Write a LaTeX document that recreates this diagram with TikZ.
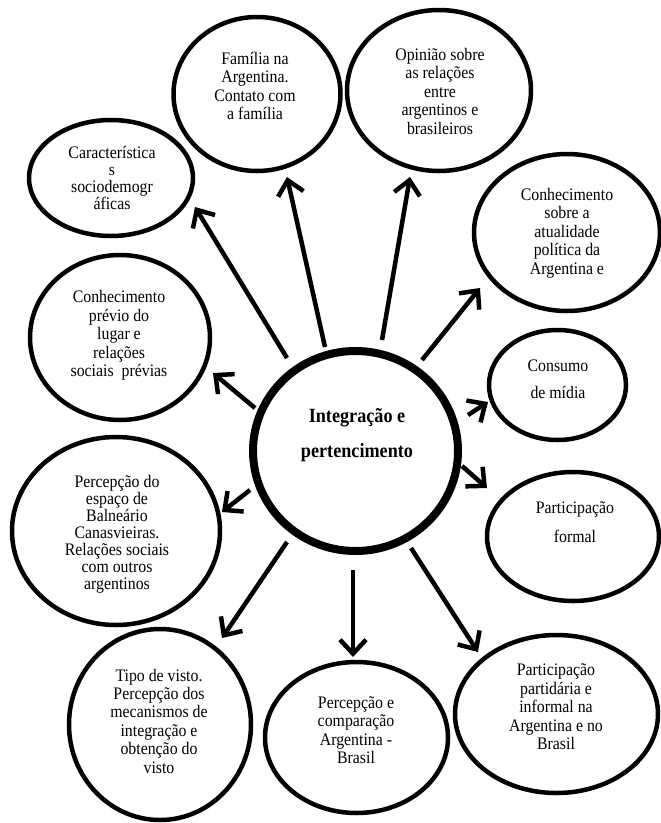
\documentclass[tikz,border=0pt]{standalone}
\usepackage{fontspec}
\setmainfont{Liberation Serif}[FakeStretch=0.9]
\usetikzlibrary{arrows.meta,shapes.geometric}
\begin{document}
\begin{tikzpicture}[x=1pt,y=-1pt,
  topic/.style={draw, ellipse, line width=4.5pt, inner sep=0pt},
  hub/.style={draw, ellipse, line width=8pt, inner sep=0pt},
  txt/.style={align=center, inner sep=0pt, font=\fontsize{17.6}{18.5}\selectfont},
  arr/.style={line width=4.5pt, -{Straight Barb[length=14pt,width=26pt,line width=4.5pt]}}
]
\useasboundingbox (0,0) rectangle (661,823);

% central theme
\node[hub, minimum width=205pt, minimum height=200pt] (c) at (355.5,451) {};
\node[txt, font=\bfseries\fontsize{20.2}{35}\selectfont] (c-t) at (357,435) {Integração e\\pertencimento};

% surrounding topics
\node[topic, minimum width=167pt, minimum height=154pt] (fam) at (257,94) {};
\node[txt] (fam-t) at (255,86) {Família na\\Argentina.\\Contato com\\a família};

\node[topic, minimum width=184pt, minimum height=161pt] (opi) at (439,90.5) {};
\node[txt] (opi-t) at (440,91) {Opinião sobre\\as relações\\entre\\argentinos e\\brasileiros};

\node[topic, minimum width=164pt, minimum height=116pt] (car) at (111,178) {};
\node[txt, font=\fontsize{17.6}{17}\selectfont] (car-t) at (112,178) {Característica\\s\\sociodemogr\\áficas};

\node[topic, minimum width=186pt, minimum height=157pt] (cso) at (567,232.5) {};
\node[txt] (cso-t) at (567,233) {Conhecimento\\sobre a\\atualidade\\política da\\Argentina e};

\node[topic, minimum width=180pt, minimum height=165pt] (cpr) at (120,337.5) {};
\node[txt] (cpr-t) at (119,335.5) {Conhecimento\\prévio do\\lugar e\\relações\\sociais\ \ prévias};

\node[topic, minimum width=137pt, minimum height=110pt] (con) at (557.5,385) {};
\node[txt, font=\fontsize{17.6}{27}\selectfont] (con-t) at (558,379) {Consumo\\de mídia};

\node[topic, minimum width=172pt, minimum height=129pt] (pfo) at (573,536.5) {};
\node[txt, font=\fontsize{17.6}{29}\selectfont] (pfo-t) at (575,522) {Participação\\formal};

\node[topic, minimum width=208pt, minimum height=188pt] (pes) at (116,531) {};
\node[txt, font=\fontsize{17.6}{17}\selectfont] (pes-t) at (117,534) {Percepção do\\espaço de\\Balneário\\Canasvieiras.\\Relações sociais\\com outros\\argentinos};

\node[topic, minimum width=182pt, minimum height=191pt] (tip) at (160,724.5) {};
\node[txt, font=\fontsize{17.6}{18.4}\selectfont] (tip-t) at (159,721) {Tipo de visto.\\Percepção dos\\mecanismos de\\integração e\\obtenção do\\visto};

\node[topic, minimum width=183pt, minimum height=151pt] (pec) at (356.5,737.5) {};
\node[txt, font=\fontsize{17.6}{18.3}\selectfont] (pec-t) at (356,730) {Percepção e\\comparação\\Argentina -\\Brasil};

\node[topic, minimum width=203pt, minimum height=158pt] (ppa) at (556.5,714) {};
\node[txt] (ppa-t) at (556,707) {Participação\\partidária e\\informal na\\Argentina e no\\Brasil};

% arrows from the central theme
\draw[arr] ([shift={(-68.5,-93)}]c.center) -- ([shift={(84,29)}]car.center);
\draw[arr] ([shift={(-30.5,-104)}]c.center) -- ([shift={(30,83)}]fam.center);
\draw[arr] ([shift={(26.5,-111)}]c.center) -- ([shift={(-29,86.5)}]opi.center);
\draw[arr] ([shift={(66.5,-91)}]c.center) -- ([shift={(-87,55.5)}]cso.center);
\draw[arr] ([shift={(-100.5,-43)}]c.center) -- ([shift={(93,35.5)}]cpr.center);
\draw[arr] ([shift={(112.5,-36)}]c.center) -- ([shift={(-69.5,17)}]con.center);
\draw[arr] ([shift={(106.5,15)}]c.center) -- ([shift={(-86,-48.5)}]pfo.center);
\draw[arr] ([shift={(-105.5,39)}]c.center) -- ([shift={(106,-19)}]pes.center);
\draw[arr] ([shift={(-68.5,91)}]c.center) -- ([shift={(62,-86.5)}]tip.center);
\draw[arr] ([shift={(-2.5,119)}]c.center) -- ([shift={(-3.5,-80.5)}]pec.center);
\draw[arr] ([shift={(55.5,97)}]c.center) -- ([shift={(-78.5,-62)}]ppa.center);
\end{tikzpicture}
\end{document}
